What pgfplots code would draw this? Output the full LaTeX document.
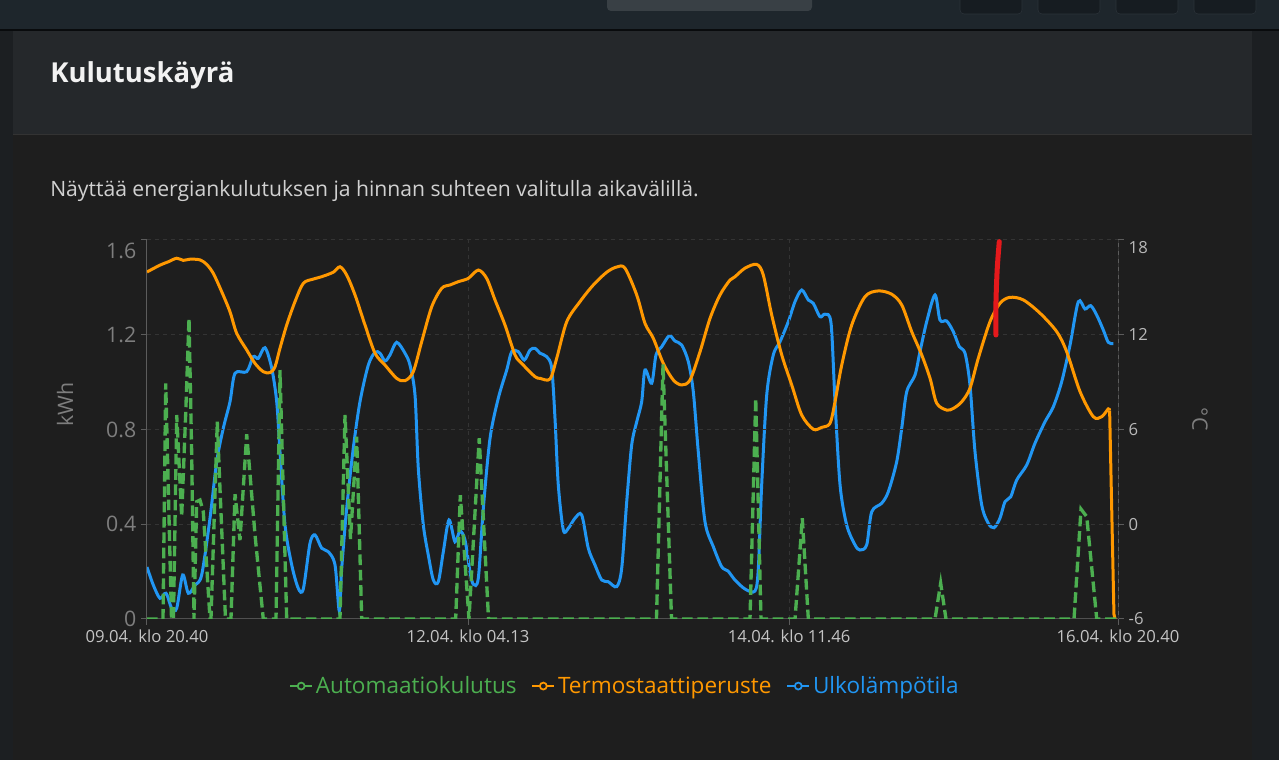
\documentclass[border=0pt]{standalone}
\usepackage{pgfplots}
\pgfplotsset{compat=1.18}
\usepackage{fontspec}
\setmainfont{Open Sans}
\definecolor{bgmain}{HTML}{1E1E1E}
\definecolor{bgouter}{HTML}{1C1F22}
\definecolor{bghead}{HTML}{25282B}
\definecolor{topbar}{HTML}{1E262C}
\definecolor{cgreen}{HTML}{4CAF50}
\definecolor{corange}{HTML}{FF9800}
\definecolor{cblue}{HTML}{2196F3}
\definecolor{cred}{HTML}{E5191C}
\definecolor{axisgray}{HTML}{5C5C5C}
\definecolor{gridgray}{HTML}{343434}
\definecolor{lblgray}{HTML}{7E7E7E}
\definecolor{rlblgray}{HTML}{B8B8B8}
\definecolor{xlblgray}{HTML}{C4C4C4}
\begin{document}
\begin{tikzpicture}
\begin{scope}[x=0.75pt,y=0.75pt]
\useasboundingbox (0,0) rectangle (1279,760);
\fill[bgouter] (0,0) rectangle (1279,760);
\fill[bgmain] (13,0) rectangle (1252,730);
\fill[bghead] (13,625) rectangle (1252,730);
\draw[color=black!80!white, line width=0.75pt] (13,625) -- (1252,625);
\fill[topbar] (0,730) rectangle (1279,760);
\draw[color=black!70!topbar, line width=1pt] (0,730) -- (1279,730);
\fill[rounded corners=3pt, fill=white!12!topbar] (607,749) rectangle (812,766);
\foreach \bx in {960,1038,1116,1194}{
  \draw[rounded corners=3pt, fill=black!25!topbar, draw=white!6!topbar] (\bx,746) rectangle (\bx+62,766);
}
\node[anchor=base west, inner sep=0pt, text=white!95!black, font=\fontsize{20.6}{25}\selectfont\bfseries] at (50,677) {Kulutuskäyrä};
\node[anchor=base west, inner sep=0pt, text=white!82!black, font=\fontsize{15.85}{19}\selectfont] at (50,563) {Näyttää energiankulutuksen ja hinnan suhteen valitulla aikavälillä.};
\end{scope}

% right axis: outdoor temperature
\begin{axis}[
  at={(110.25pt,105.75pt)}, anchor=south west,
  scale only axis, width=728.25pt, height=284.25pt,
  xmin=0, xmax=168, ymin=-6, ymax=18,
  axis x line=none, axis y line*=right,
  ytick={-6,0,6,12}, yticklabels={-6,0,6,12},
  extra y ticks={18}, extra y tick labels={18},
  extra y tick style={yticklabel style={yshift=-6pt}},
  tick align=outside, major tick length=4.5pt,
  y axis line style={draw=axisgray, line width=0.75pt},
  ytick style={draw=axisgray, line width=0.75pt},
  yticklabel style={font=\fontsize{12.5}{15}\selectfont, text=rlblgray},
  ylabel={°C},
  every axis y label/.style={at={(rel axis cs:1.0845,0.527)}, rotate=-90, anchor=center, font=\fontsize{16}{19}\selectfont, text=lblgray},
]
\addplot[cblue, line width=2.25pt, smooth, tension=0.5] coordinates {
(0,-2.71) (1.09,-3.85) (2.25,-4.69) (3.29,-4.37) (4.27,-5.32) (5.14,-5.32) (6.18,-3.21) (7.15,-4.37) (8.30,-3.85) (9.46,-3.21)
(10.90,0.38) (12.06,3.96) (13.20,6.08) (14.36,7.76) (15.23,9.56) (17.25,9.66) (18.39,10.61) (19.26,10.51) (20.42,11.18) (21.58,9.88)
(22.44,7.76) (23.01,4.59) (23.88,-0.05) (25.04,-2.58) (26.18,-4.06) (27.04,-4.10) (28.20,-1.21) (29.07,-0.68) (30.23,-1.52) (31.37,-1.74)
(32.53,-2.58) (33.27,-5.49) (33.69,-2.79) (34.55,1.01) (35.69,4.81) (36.85,7.76) (38.29,10.08) (39.45,10.89) (40.31,10.83) (41.18,10.34)
(42.04,10.72) (43.20,11.52) (44.64,10.83) (45.50,10.08) (46.37,8.18) (46.94,3.54) (47.81,-0.05) (48.67,-1.95) (49.54,-3.53) (50.40,-3.64)
(51.27,-1.74) (52.25,0.27) (53.29,-1.11) (54.15,-0.43) (55.02,-1.00) (55.88,-3.00) (56.46,-3.80) (57.32,-3.42) (58.19,1.01) (59.35,5.44)
(60.78,7.98) (62.24,9.77) (63.10,10.93) (64.24,10.93) (65.28,10.40) (66.27,11.03) (67.13,11.14) (68.00,10.83) (69.16,10.61) (70.02,9.88)
(70.59,6.71) (71.16,2.49) (72.03,-0.36) (72.89,-0.26) (74.05,0.38) (75.21,0.59) (76.35,-1.52) (77.51,-2.58) (78.67,-3.53) (79.81,-3.64)
(81.27,-3.95) (82.13,-2.79) (83.00,1.43) (83.86,5.02) (84.73,6.49) (85.59,7.76) (86.16,9.77) (87.32,8.93) (88.07,10.72) (89.05,11.24)
(90.37,11.94) (91.35,11.60) (92.51,11.35) (93.66,10.29) (94.52,8.39) (95.38,4.59) (96.54,0.16) (97.98,-1.42) (99.43,-2.69) (100.52,-2.96)
(101.73,-3.53) (103.46,-4.10) (105.19,-4.23) (105.77,-2.79) (106.35,2.49) (107.22,8.18) (108.36,10.72) (109.52,11.56) (110.96,12.83) (112.11,14.09)
(113.28,14.83) (114.42,14.20) (115.28,13.99) (116.44,13.14) (117.31,13.30) (118.35,12.73) (119.04,7.76) (119.91,2.49) (121.06,-0.05) (122.50,-1.31)
(123.36,-1.63) (124.52,-1.31) (125.39,0.79) (127.12,1.33) (128.26,2.06) (129.71,3.96) (130.58,6.08) (131.44,8.39) (132.88,9.45) (133.74,10.93)
(134.90,12.83) (136.34,14.52) (137.20,12.93) (138.36,12.87) (139.51,12.19) (140.55,11.24) (141.53,10.83) (142.39,8.82) (143.26,4.59) (144.42,1.22)
(145.56,0.06) (146.55,-0.22) (147.58,0.38) (148.45,1.43) (149.44,1.74) (150.47,2.80) (152.20,3.75) (153.64,5.13) (155.37,6.49) (156.81,7.44)
(158.26,9.03) (159.70,11.35) (161.13,14.09) (162.29,13.63) (163.28,13.84) (164.31,13.25) (165.46,12.30) (166.32,11.52) (167.19,11.43)
};
\end{axis}

% left axis: kWh
\begin{axis}[
  at={(110.25pt,105.75pt)}, anchor=south west,
  scale only axis, width=728.25pt, height=284.25pt,
  xmin=0, xmax=168, ymin=0, ymax=1.6,
  axis x line*=bottom, axis y line*=left,
  xtick={0,55.55,111.1,168},
  xticklabels={09.04. klo 20.40,12.04. klo 04.13,14.04. klo 11.46,16.04. klo 20.40},
  ytick={0,0.4,0.8,1.2}, yticklabels={0,0.4,0.8,1.2},
  extra y ticks={1.6}, extra y tick labels={1.6},
  extra y tick style={grid=major, yticklabel style={yshift=-8pt}},
  grid=major, grid style={gridgray, dash pattern=on 3pt off 3pt, line width=0.75pt},
  tick align=outside, major tick length=4.5pt,
  y axis line style={draw=axisgray, line width=0.75pt},
  x axis line style={draw=white!22!bgmain, line width=0.75pt},
  tick style={draw=axisgray, line width=0.75pt},
  yticklabel style={font=\fontsize{16}{19}\selectfont, text=lblgray},
  xticklabel style={font=\fontsize{12.5}{15}\selectfont, text=xlblgray},
  ylabel={kWh},
  every axis y label/.style={at={(rel axis cs:-0.0845,0.565)}, rotate=90, anchor=center, font=\fontsize{16}{19}\selectfont, text=lblgray},
  legend style={at={(0.4925,-0.177)}, anchor=center, draw=none, fill=none, legend columns=3,
    font=\fontsize{16.9}{20}\selectfont, /tikz/every even column/.append style={column sep=9pt}},
  legend image code/.code={\draw[#1, solid, line width=1.6pt] (0pt,0pt) -- (16.5pt,0pt); \draw[#1, solid, line width=1.3pt, fill=bgmain] (8.25pt,0pt) circle (2.6pt);},
]
\addlegendimage{cgreen}
\addlegendentry{\textcolor{cgreen}{Automaatiokulutus}}
\addlegendimage{corange}
\addlegendentry{\textcolor{corange}{Termostaattiperuste}}
\addlegendimage{cblue}
\addlegendentry{\textcolor{cblue}{Ulkolämpötila}}

\addplot[forget plot, corange, line width=2.25pt, smooth, tension=0.5] coordinates {
(0,1.465) (2.25,1.494) (3.69,1.508) (5.14,1.523) (6.28,1.514) (7.44,1.519) (9.17,1.516) (10.33,1.497) (11.47,1.459) (12.92,1.382)
(14.36,1.297) (15.52,1.206) (17.25,1.136) (18.69,1.079) (20.12,1.044) (21.28,1.040) (22.15,1.065) (23.01,1.143) (24.17,1.241) (25.61,1.340)
(27.04,1.417) (28.77,1.435) (30.22,1.445) (32.23,1.464) (33.39,1.487) (34.55,1.452) (35.99,1.368) (37.72,1.241) (39.45,1.122) (41.18,1.072)
(43.20,1.016) (44.64,1.006) (46.07,1.044) (47.53,1.171) (49.26,1.318) (50.99,1.396) (52.42,1.410) (53.86,1.424) (55.59,1.438) (57.32,1.473)
(58.77,1.438) (60.21,1.347) (61.94,1.241) (63.67,1.115) (64.83,1.079) (67.13,1.023) (68.00,1.016) (69.73,1.013) (70.89,1.101) (72.62,1.255)
(74.92,1.340) (77.22,1.410) (79.54,1.464) (81.27,1.486) (82.70,1.481) (84.73,1.368) (86.16,1.248) (87.60,1.185) (89.33,1.079) (91.06,1.009)
(92.51,0.988) (93.95,1.009) (95.68,1.128) (97.41,1.269) (99.14,1.368) (100.87,1.431) (101.73,1.445) (103.46,1.481) (105.49,1.497) (106.63,1.452)
(108.09,1.283) (109.82,1.115) (111.55,0.988) (113.28,0.861) (115.28,0.801) (116.74,0.809) (118.17,0.826) (119.04,0.917) (120.20,1.072) (121.93,1.241)
(124.23,1.361) (126.53,1.385) (128.85,1.371) (130.58,1.326) (132.31,1.213) (134.04,1.115) (135.48,1.016) (136.63,0.911) (138.36,0.882) (139.51,0.889)
(140.96,0.917) (142.39,0.974) (143.83,1.101) (145.85,1.255) (147.58,1.333) (149.31,1.358) (151.62,1.347) (154.51,1.291) (157.40,1.213) (159.13,1.128)
(161.43,0.960) (163.73,0.854) (165.18,0.854) (166.32,0.887) (166.55,0.880)
};
\addplot[forget plot, corange, line width=2.25pt] coordinates {(166.55,0.880) (167.3,0.02) (167.5,0)};

\addplot[forget plot, cgreen, line width=2.5pt, dash pattern=on 8pt off 3.5pt] coordinates {
(0,0) (2.25,0) (2.77,0) (3.24,0.995) (4.24,0) (4.58,0) (5.14,0.861) (6.00,0.432) (6.70,0.870) (7.27,1.269) (7.73,0.70) (8.13,0)
(8.60,0.495) (9.17,0.502) (9.74,0.453) (10.90,0) (11.07,0) (12.16,0.833) (12.63,0.55) (13.58,0) (14.53,0) (15.23,0.527) (16.09,0.333)
(17.25,0.78) (18.69,0.355) (20.12,0) (22.32,0) (23.01,1.051) (24.17,0) (33.39,0) (34.26,0.861) (35.21,0.338) (36.28,0.770) (37.15,0)
(53.41,0) (54.21,0.523) (55.71,0) (57.48,0.763) (59.09,0) (88.15,0) (89.28,1.075) (90.75,0) (104.33,0) (105.32,0.932) (106.23,0)
(112.12,0) (113.38,0.425) (114.42,0) (136.34,0) (137.32,0.151) (138.24,0) (160.39,0) (161.60,0.464) (162.59,0.432) (164.32,0) (168,0)
};

\addplot[forget plot, cred, line width=3.75pt, line cap=round, smooth] coordinates {
(147.46,1.593) (147.11,1.481) (146.89,1.340) (146.89,1.199)
};
\end{axis}
\end{tikzpicture}
\end{document}
